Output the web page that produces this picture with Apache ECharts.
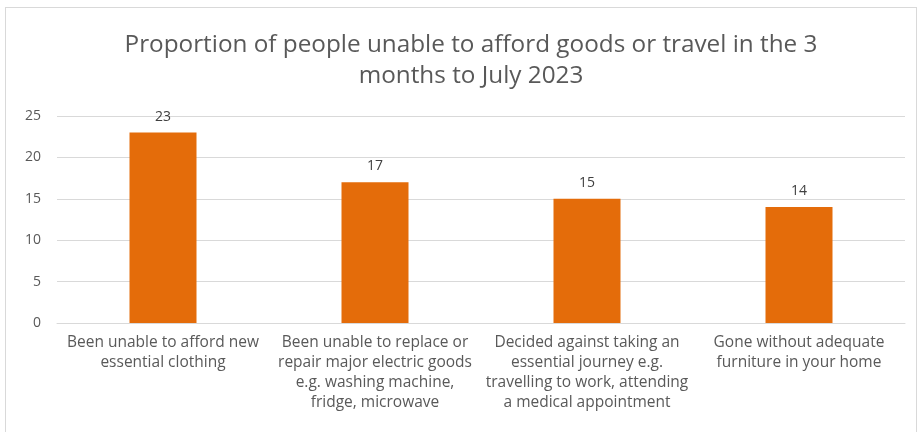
<!DOCTYPE html>
<html>
<head>
<meta charset="utf-8">
<script src="https://cdn.jsdelivr.net/npm/echarts@6/dist/echarts.min.js"></script>
<style>
  html, body { margin: 0; padding: 0; background: #ffffff; }
  #frame { position: absolute; left: 5px; top: 7px; width: 912px; height: 430px; border: 1px solid #d9d9d9; box-sizing: border-box; }
  #chart { position: absolute; left: 0; top: 0; width: 919px; height: 432px; }
</style>
</head>
<body>
<div id="frame"></div>
<div id="chart"></div>
<script>
// Share of people (%) reporting each hardship, 3 months to July 2023
const categories = [
  'Been unable to afford new\nessential clothing',
  'Been unable to replace or\nrepair major electric goods\ne.g. washing machine,\nfridge, microwave',
  'Decided against taking an\nessential journey e.g.\ntravelling to work, attending\na medical appointment',
  'Gone without adequate\nfurniture in your home'
];
const values = [23, 17, 15, 14];
const yTicks = { min: 0, max: 25, interval: 5 };
const titleText = 'Proportion of people unable to afford goods or travel in the 3\nmonths to July 2023';

const chart = echarts.init(document.getElementById('chart'), null, { renderer: 'canvas' });
const fontFamily = '"Open Sans", sans-serif';

chart.setOption({
  animation: false,
  backgroundColor: 'transparent',
  title: {
    text: titleText,
    left: 466,
    textAlign: 'center',
    top: 25,
    textStyle: { color: '#595959', fontSize: 24.3, fontWeight: 'normal', fontFamily: fontFamily, lineHeight: 31 }
  },
  grid: { left: 57, right: 14, top: 116, bottom: 109, containLabel: false },
  xAxis: {
    type: 'category',
    data: categories,
    axisLine: { lineStyle: { color: '#d9d9d9' } },
    axisTick: { show: false },
    axisLabel: { color: '#595959', fontSize: 15.5, fontFamily: fontFamily, lineHeight: 20, margin: 10, interval: 0 }
  },
  yAxis: {
    type: 'value',
    min: yTicks.min,
    max: yTicks.max,
    interval: yTicks.interval,
    axisLine: { show: false },
    axisTick: { show: false },
    splitLine: { lineStyle: { color: '#d9d9d9' } },
    axisLabel: { color: '#595959', fontSize: 14, fontFamily: fontFamily, margin: 16 }
  },
  series: [{
    type: 'bar',
    data: values,
    barWidth: 67,
    itemStyle: { color: '#E46C0A' },
    label: { show: true, position: 'top', distance: 9, color: '#404040', fontSize: 14, fontFamily: fontFamily }
  }]
});
</script>
</body>
</html>
